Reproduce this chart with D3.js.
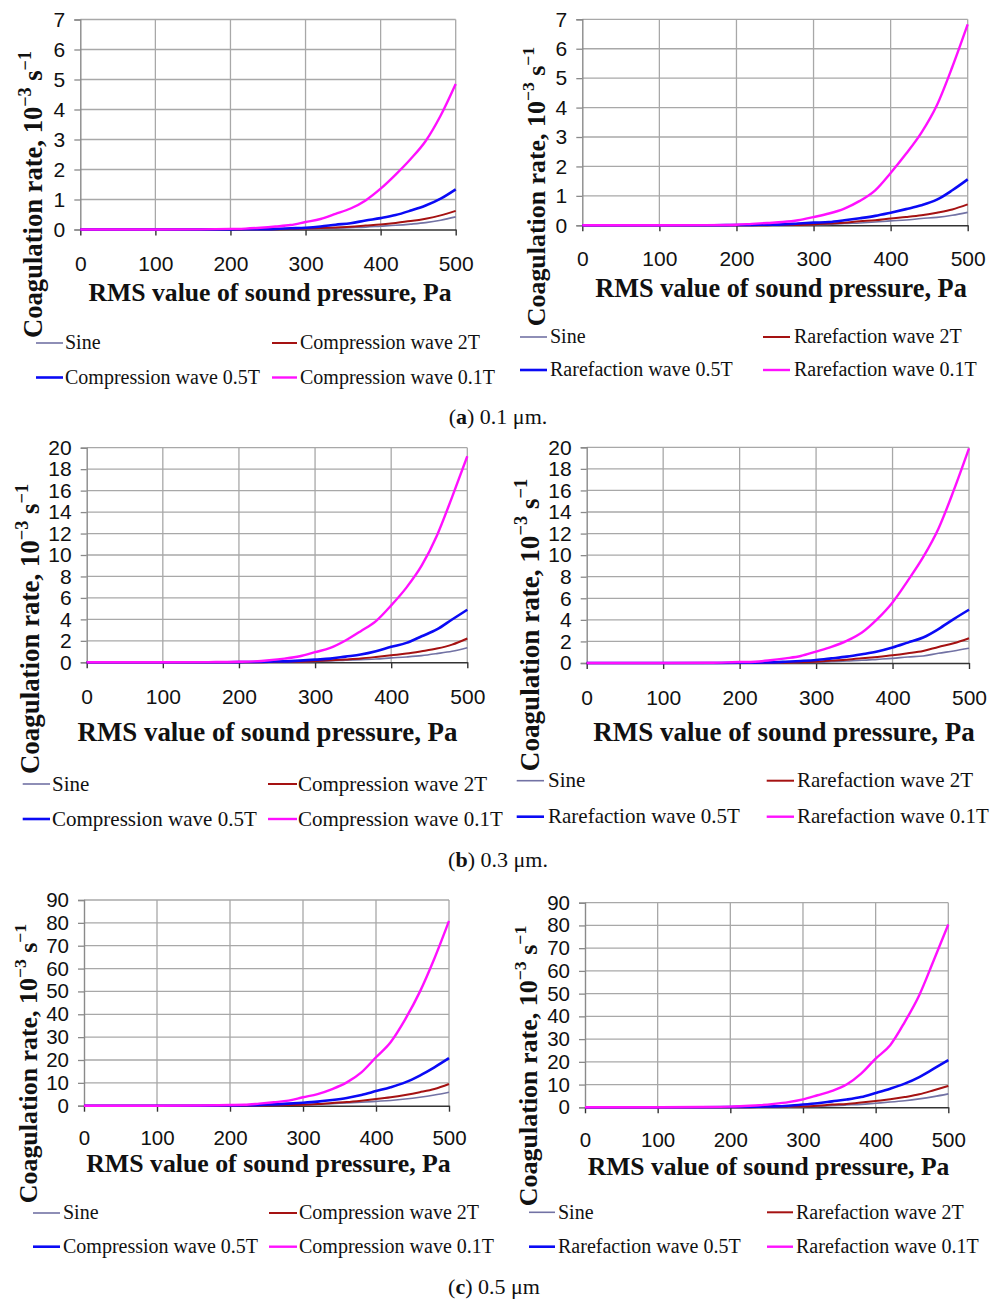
<!DOCTYPE html>
<html>
<head>
<meta charset="utf-8">
<script src="https://cdn.jsdelivr.net/npm/d3@7"></script>
<style>
  html, body { margin: 0; padding: 0; background: #fff; }
  svg { display: block; }
</style>
</head>
<body>
<svg id="fig" width="998" height="1299"></svg>
<script>
// RMS sound pressure, Pa
const pressure = [0, 100, 160, 200, 220, 240, 260, 280, 300, 320, 340, 360, 380, 400, 420, 440, 460, 480, 500];

// Legend labels
const compressionNames = ["Sine", "Compression wave 2T", "Compression wave 0.5T", "Compression wave 0.1T"];
const rarefactionNames = ["Sine", "Rarefaction wave 2T", "Rarefaction wave 0.5T", "Rarefaction wave 0.1T"];

// Axis ticks
const xTicks = [0, 100, 200, 300, 400, 500];
const yTicksA = [0, 1, 2, 3, 4, 5, 6, 7];
const yTicksB = [0, 2, 4, 6, 8, 10, 12, 14, 16, 18, 20];
const yTicksC = [0, 10, 20, 30, 40, 50, 60, 70, 80, 90];

// Captions
const captions = [["a", " 0.1 μm."], ["b", " 0.3 μm."], ["c", " 0.5 μm"]];

// Coagulation rate, 10^-3 s^-1 — (a) 0.1 μm, compression waves
const a1Sine = [0, 0, 0, 0, 0, 0.005, 0.01, 0.01, 0.015, 0.025, 0.04, 0.06, 0.08, 0.11, 0.14, 0.18, 0.23, 0.31, 0.42];
const a1Wave2T = [0, 0, 0, 0, 0.005, 0.01, 0.01, 0.015, 0.03, 0.05, 0.07, 0.09, 0.13, 0.17, 0.22, 0.28, 0.36, 0.47, 0.62];
const a1Wave05T = [0, 0, 0, 0.005, 0.01, 0.01, 0.02, 0.04, 0.06, 0.10, 0.16, 0.21, 0.30, 0.38, 0.48, 0.63, 0.80, 1.03, 1.34];
const a1Wave01T = [0, 0, 0.005, 0.02, 0.03, 0.06, 0.10, 0.15, 0.25, 0.35, 0.52, 0.70, 0.97, 1.36, 1.83, 2.35, 2.95, 3.80, 4.85];

// (a) 0.1 μm, rarefaction waves
const a2Sine = [0, 0, 0, 0, 0, 0, 0.005, 0.01, 0.02, 0.03, 0.06, 0.08, 0.11, 0.15, 0.18, 0.23, 0.27, 0.34, 0.44];
const a2Wave2T = [0, 0, 0, 0, 0, 0.005, 0.01, 0.01, 0.03, 0.06, 0.09, 0.14, 0.17, 0.23, 0.28, 0.34, 0.43, 0.54, 0.71];
const a2Wave05T = [0, 0, 0, 0.01, 0.015, 0.02, 0.03, 0.06, 0.09, 0.11, 0.17, 0.24, 0.32, 0.43, 0.55, 0.68, 0.87, 1.19, 1.56];
const a2Wave01T = [0, 0, 0.005, 0.02, 0.05, 0.08, 0.11, 0.17, 0.28, 0.40, 0.57, 0.83, 1.19, 1.78, 2.43, 3.15, 4.08, 5.38, 6.83];

// (b) 0.3 μm, compression waves
const b1Sine = [0, 0, 0, 0, 0, 0.01, 0.02, 0.04, 0.09, 0.12, 0.19, 0.25, 0.31, 0.41, 0.50, 0.62, 0.81, 1.03, 1.36];
const b1Wave2T = [0, 0, 0, 0, 0.01, 0.02, 0.04, 0.06, 0.12, 0.19, 0.27, 0.36, 0.50, 0.66, 0.81, 1.03, 1.28, 1.65, 2.22];
const b1Wave05T = [0, 0, 0, 0.02, 0.03, 0.06, 0.09, 0.16, 0.25, 0.34, 0.53, 0.72, 1.03, 1.44, 1.81, 2.43, 3.06, 3.99, 4.90];
const b1Wave01T = [0, 0, 0.02, 0.05, 0.09, 0.19, 0.34, 0.56, 0.94, 1.34, 2.03, 2.90, 3.84, 5.30, 6.96, 9.0, 11.8, 15.4, 19.2];

// (b) 0.3 μm, rarefaction waves
const b2Sine = [0, 0, 0, 0, 0, 0.01, 0.02, 0.04, 0.06, 0.12, 0.19, 0.25, 0.34, 0.43, 0.56, 0.65, 0.90, 1.12, 1.37];
const b2Wave2T = [0, 0, 0, 0, 0.01, 0.02, 0.03, 0.06, 0.12, 0.22, 0.31, 0.43, 0.56, 0.71, 0.90, 1.12, 1.49, 1.83, 2.30];
const b2Wave05T = [0, 0, 0, 0.02, 0.03, 0.06, 0.12, 0.19, 0.28, 0.43, 0.59, 0.81, 1.06, 1.43, 1.89, 2.36, 3.14, 4.07, 4.94];
const b2Wave01T = [0, 0, 0.02, 0.09, 0.12, 0.25, 0.43, 0.65, 1.06, 1.49, 2.05, 2.83, 4.07, 5.62, 7.64, 9.81, 12.45, 16.0, 19.9];

// (c) 0.5 μm, compression waves
const c1Sine = [0, 0, 0, 0, 0, 0.05, 0.1, 0.2, 0.3, 0.6, 0.9, 1.2, 1.5, 1.9, 2.3, 2.9, 3.7, 4.7, 5.9];
const c1Wave2T = [0, 0, 0, 0, 0.05, 0.1, 0.2, 0.3, 0.4, 0.7, 1.2, 1.6, 2.2, 2.9, 3.7, 4.7, 5.9, 7.3, 9.5];
const c1Wave05T = [0, 0, 0, 0.1, 0.2, 0.3, 0.6, 0.9, 1.3, 1.8, 2.5, 3.4, 4.7, 6.4, 8.1, 10.2, 13.2, 16.8, 20.8];
const c1Wave01T = [0, 0, 0.1, 0.3, 0.4, 0.9, 1.5, 2.2, 3.7, 5.1, 7.3, 10.2, 14.6, 21.2, 27.8, 37.8, 49.8, 64.4, 80.8];

// (c) 0.5 μm, rarefaction waves
const c2Sine = [0, 0, 0, 0, 0, 0.05, 0.1, 0.2, 0.3, 0.4, 0.7, 1.0, 1.3, 1.8, 2.3, 2.9, 3.7, 4.7, 5.9];
const c2Wave2T = [0, 0, 0, 0, 0.05, 0.1, 0.2, 0.3, 0.4, 0.7, 1.2, 1.5, 2.1, 2.8, 3.5, 4.5, 5.7, 7.5, 9.4];
const c2Wave05T = [0, 0, 0, 0.1, 0.2, 0.3, 0.4, 0.7, 1.2, 1.8, 2.6, 3.4, 4.5, 6.3, 8.2, 10.4, 13.3, 17.0, 20.7];
const c2Wave01T = [0, 0, 0.1, 0.3, 0.6, 0.9, 1.5, 2.3, 3.5, 5.3, 7.2, 10.0, 14.8, 21.4, 27.3, 37.5, 49.3, 64.7, 80.4];

// Line styles per series (Sine, 2T, 0.5T, 0.1T)
const seriesColors = ["#7272a4", "#a51212", "#0a0af5", "#ff10ff"];
const seriesWidths = [1.6, 2.0, 2.6, 2.4];

const serif = "'Liberation Serif', 'Times New Roman', serif";
const sans = "'Liberation Sans', Arial, sans-serif";

// Layout of the six panels
const panels = [
  { series: [a1Sine, a1Wave2T, a1Wave05T, a1Wave01T], names: compressionNames, yTicks: yTicksA,
    plot: { l: 80.3, r: 455.7, t: 19.5, b: 229.5 }, tickFs: 21, xLabY: 263, xTitle: { x: 270, y: 292, fs: 25.7 },
    yTitle: { x: 33, y: 194.5, fs: 26.6 }, leg: { rows: [343, 377.5], c1: [36, 63, 65], c2: [272, 297, 300], fs: 20 } },
  { series: [a2Sine, a2Wave2T, a2Wave05T, a2Wave01T], names: rarefactionNames, yTicks: yTicksA,
    plot: { l: 582.3, r: 967.7, t: 19.3, b: 225.3 }, tickFs: 21, xLabY: 258, xTitle: { x: 781, y: 288, fs: 26.3 },
    yTitle: { x: 536, y: 186.5, fs: 25.9 }, leg: { rows: [337, 370], c1: [520, 547, 550], c2: [763, 790, 794], fs: 20 } },
  { series: [b1Sine, b1Wave2T, b1Wave05T, b1Wave01T], names: compressionNames, yTicks: yTicksB,
    plot: { l: 86.7, r: 467.3, t: 447.7, b: 662.3 }, tickFs: 21, xLabY: 696.7, xTitle: { x: 267.5, y: 731.7, fs: 26.9 },
    yTitle: { x: 30, y: 629, fs: 26.9 }, leg: { rows: [784, 819], c1: [22.7, 50, 52], c2: [268, 297, 298], fs: 21 } },
  { series: [b2Sine, b2Wave2T, b2Wave05T, b2Wave01T], names: rarefactionNames, yTicks: yTicksB,
    plot: { l: 586.7, r: 969, t: 447.3, b: 663 }, tickFs: 21, xLabY: 697.7, xTitle: { x: 784, y: 731.7, fs: 27 },
    yTitle: { x: 529, y: 625, fs: 27.1 }, leg: { rows: [780.7, 816.7], c1: [516.7, 544, 548], c2: [766.7, 794, 797], fs: 21 } },
  { series: [c1Sine, c1Wave2T, c1Wave05T, c1Wave01T], names: compressionNames, yTicks: yTicksC,
    plot: { l: 84, r: 449, t: 900, b: 1105.7 }, tickFs: 20.5, xLabY: 1137.7, xTitle: { x: 268.5, y: 1163, fs: 25.8 },
    yTitle: { x: 28, y: 1063.5, fs: 25.9 }, leg: { rows: [1213, 1246.7], c1: [33, 60, 63], c2: [269, 297, 299], fs: 20 } },
  { series: [c2Sine, c2Wave2T, c2Wave05T, c2Wave01T], names: rarefactionNames, yTicks: yTicksC,
    plot: { l: 585, r: 948.3, t: 902.7, b: 1107.3 }, tickFs: 20.5, xLabY: 1140, xTitle: { x: 768.5, y: 1165.7, fs: 25.6 },
    yTitle: { x: 528, y: 1066, fs: 26 }, leg: { rows: [1212.3, 1246.7], c1: [529, 555, 558], c2: [767, 793, 796], fs: 20 } }
];

const captionPos = [{ x: 498, y: 424 }, { x: 498, y: 867 }, { x: 494, y: 1294 }];

const svg = d3.select("#fig");

panels.forEach(p => {
  const g = svg.append("g");
  const P = p.plot;
  const yMax = p.yTicks[p.yTicks.length - 1];
  const x = d3.scaleLinear().domain([0, 500]).range([P.l, P.r]);
  const y = d3.scaleLinear().domain([0, yMax]).range([P.b, P.t]);

  // horizontal gridlines
  g.append("g").selectAll("line").data(p.yTicks.slice(1)).join("line")
    .attr("x1", P.l).attr("x2", P.r)
    .attr("y1", d => y(d)).attr("y2", d => y(d))
    .attr("stroke", "#a8a8a8").attr("stroke-width", 1.3);
  // vertical gridlines
  g.append("g").selectAll("line").data(xTicks.slice(1)).join("line")
    .attr("x1", d => x(d)).attr("x2", d => x(d))
    .attr("y1", P.t).attr("y2", P.b)
    .attr("stroke", "#a8a8a8").attr("stroke-width", 1.3);

  // y axis
  const yAxis = d3.axisLeft(y).tickValues(p.yTicks).tickSize(6).tickPadding(9).tickFormat(d3.format("d"));
  const ya = g.append("g").attr("transform", `translate(${P.l},0)`).call(yAxis);
  ya.select(".domain").attr("stroke", "#8a8a8a").attr("stroke-width", 1.4);
  ya.selectAll(".tick line").attr("stroke", "#8a8a8a").attr("stroke-width", 1.3);
  ya.selectAll(".tick text").attr("font-family", sans).attr("font-size", p.tickFs).attr("fill", "#111");

  // x axis
  const xAxis = d3.axisBottom(x).tickValues(xTicks).tickSize(6).tickSizeOuter(0).tickPadding(0).tickFormat(d3.format("d"));
  const xa = g.append("g").attr("transform", `translate(0,${P.b})`).call(xAxis);
  xa.select(".domain").attr("stroke", "#333").attr("stroke-width", 1.6);
  xa.selectAll(".tick line").attr("stroke", "#333").attr("stroke-width", 1.4);
  xa.selectAll(".tick text").attr("font-family", sans).attr("font-size", p.tickFs).attr("fill", "#111")
    .attr("y", p.xLabY - P.b).attr("dy", "0.36em");

  // series lines
  const line = d3.line().x((d, i) => x(pressure[i])).y(d => y(d)).curve(d3.curveMonotoneX);
  p.series.forEach((vals, k) => {
    g.append("path").datum(vals)
      .attr("d", line)
      .attr("fill", "none")
      .attr("stroke", seriesColors[k])
      .attr("stroke-width", seriesWidths[k])
      .attr("stroke-linejoin", "round");
  });

  // x axis title
  g.append("text")
    .attr("x", p.xTitle.x).attr("y", p.xTitle.y).attr("dy", "0.35em")
    .attr("text-anchor", "middle")
    .attr("font-family", serif).attr("font-weight", "bold").attr("font-size", p.xTitle.fs)
    .attr("fill", "#111")
    .text("RMS value of sound pressure, Pa");

  // y axis title with superscripts
  const yt = g.append("text")
    .attr("transform", `translate(${p.yTitle.x},${p.yTitle.y}) rotate(-90)`)
    .attr("dy", "0.35em")
    .attr("text-anchor", "middle")
    .attr("font-family", serif).attr("font-weight", "bold").attr("font-size", p.yTitle.fs)
    .attr("fill", "#111");
  const sup = p.yTitle.fs * 0.42;
  yt.append("tspan").text("Coagulation rate, 10");
  yt.append("tspan").attr("dy", -sup).attr("font-size", p.yTitle.fs * 0.68).text("−3");
  yt.append("tspan").attr("dy", sup).text(" s");
  yt.append("tspan").attr("dy", -sup).attr("font-size", p.yTitle.fs * 0.68).text("−1");

  // legend: two rows, two columns
  const L = p.leg;
  const slots = [
    { row: 0, col: L.c1 }, { row: 0, col: L.c2 },
    { row: 1, col: L.c1 }, { row: 1, col: L.c2 }
  ];
  slots.forEach((s, k) => {
    const yy = L.rows[s.row];
    g.append("line")
      .attr("x1", s.col[0]).attr("x2", s.col[1]).attr("y1", yy).attr("y2", yy)
      .attr("stroke", seriesColors[k]).attr("stroke-width", seriesWidths[k]);
    g.append("text")
      .attr("x", s.col[2]).attr("y", yy).attr("dy", "0.32em")
      .attr("font-family", serif).attr("font-size", L.fs).attr("fill", "#111")
      .text(p.names[k]);
  });
});

// sub-figure captions
captions.forEach((c, i) => {
  const t = svg.append("text")
    .attr("x", captionPos[i].x).attr("y", captionPos[i].y)
    .attr("text-anchor", "middle")
    .attr("font-family", serif).attr("font-size", 22).attr("fill", "#111");
  t.append("tspan").text("(");
  t.append("tspan").attr("font-weight", "bold").text(c[0]);
  t.append("tspan").text(")" + c[1]);
});
</script>
</body>
</html>
